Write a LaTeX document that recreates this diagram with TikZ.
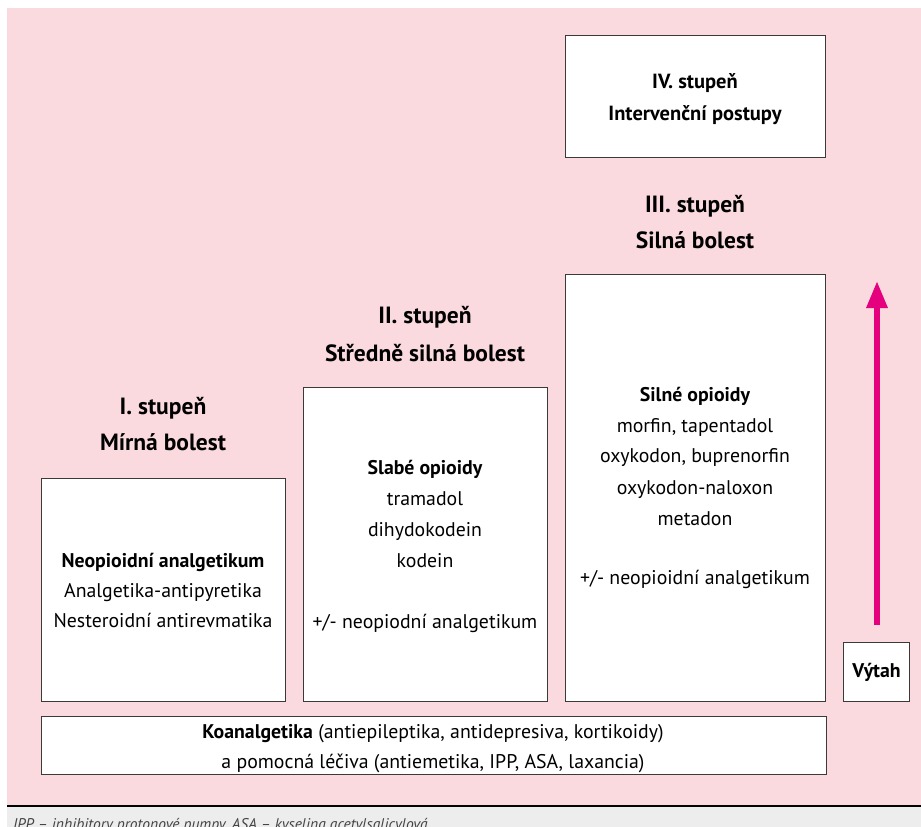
\documentclass[tikz,border=0pt]{standalone}
\usepackage{fontspec}
\setmainfont{PT Sans}
\usetikzlibrary{arrows.meta}
\definecolor{bgpink}{HTML}{FADADF}
\definecolor{footgray}{HTML}{EDEDED}
\definecolor{arrowmag}{HTML}{E5007D}
\definecolor{boxline}{HTML}{3A3A3A}
\definecolor{foottext}{HTML}{444444}
\begin{document}
\begin{tikzpicture}[x=1pt,y=-1pt,
  stagebox/.style={draw=boxline,line width=0.9pt,fill=white,anchor=north west,inner sep=0pt},
  body/.style={anchor=base,inner sep=0pt,font=\fontsize{19.8}{22}\selectfont},
  boldbody/.style={body,font=\fontsize{19.8}{22}\selectfont\bfseries},
  head/.style={anchor=base,inner sep=0pt,font=\fontsize{23.5}{26}\selectfont\bfseries},
  toptext/.style={anchor=base,inner sep=0pt,font=\fontsize{20.5}{23}\selectfont\bfseries}]
\useasboundingbox (0,0) rectangle (921,827);
\fill[white] (0,0) rectangle (921,827);
\fill[bgpink] (7,8) rectangle (921,806);
\fill[footgray] (7,806) rectangle (921,827);
\draw[black,line width=1.3pt] (7,806) -- (921,806);

% boxes
\node[stagebox,minimum width=244pt,minimum height=223pt] (b1) at (41,478) {};
\node[stagebox,minimum width=244pt,minimum height=314pt] (b2) at (303,387) {};
\node[stagebox,minimum width=260pt,minimum height=427pt] (b3) at (565,274) {};
\node[stagebox,minimum width=260pt,minimum height=122pt] (b4) at (565,35) {};
\node[stagebox,minimum width=66pt,minimum height=59pt] (lift) at (843,642) {};
\node[stagebox,minimum width=785pt,minimum height=58pt] (base) at (41,716) {};

% headings
\node[head] (h1a) at (163,414) {I. stupeň};
\node[head] (h1b) at (163,450) {Mírná bolest};
\node[head] (h2a) at (425,323) {II. stupeň};
\node[head] (h2b) at (425,361) {Středně silná bolest};
\node[head] (h3a) at (695,212) {III. stupeň};
\node[head] (h3b) at (695,248) {Silná bolest};

% step IV
\node[toptext] (t4a) at (695,88) {IV. stupeň};
\node[toptext] (t4b) at (695,120) {Intervenční postupy};

% box I
\node[boldbody] (t1a) at (163,567) {Neopioidní analgetikum};
\node[body] (t1b) at (163,597) {Analgetika-antipyretika};
\node[body] (t1c) at (163,627) {Nesteroidní antirevmatika};

% box II
\node[boldbody] (t2a) at (425,474) {Slabé opioidy};
\node[body] (t2b) at (425,505) {tramadol};
\node[body] (t2c) at (425,536) {dihydokodein};
\node[body] (t2d) at (425,567) {kodein};
\node[body] (t2e) at (425,628) {+/- neopiodní analgetikum};

% box III
\node[boldbody] (t3a) at (695,401) {Silné opioidy};
\node[body] (t3b) at (695,432) {morfin, tapentadol};
\node[body] (t3c) at (695,462) {oxykodon, buprenorfin};
\node[body] (t3d) at (695,494) {oxykodon-naloxon};
\node[body] (t3e) at (695,525) {metadon};
\node[body] (t3f) at (695,584) {+/- neopioidní analgetikum};

% base box
\node[body] (tba) at (433,738) {\textbf{Koanalgetika} (antiepileptika, antidepresiva, kortikoidy)};
\node[body] (tbb) at (433,768) {a pomocná léčiva (antiemetika, IPP, ASA, laxancia)};

% lift
\node[boldbody,anchor=center] (tl) at (lift.center) {Výtah};
\coordinate (arrbot) at (877,625);
\coordinate (arrtop) at (877,281);
\draw[arrowmag,line width=6pt,-{Triangle[length=27pt,width=20pt]}] (arrbot) -- (arrtop);

% footer
\node[anchor=base west,inner sep=0pt,text=foottext,font=\fontsize{15.5}{18}\selectfont\itshape] (foot) at (13,829) {IPP – inhibitory protonové pumpy, ASA – kyselina acetylsalicylová};
\end{tikzpicture}
\end{document}
